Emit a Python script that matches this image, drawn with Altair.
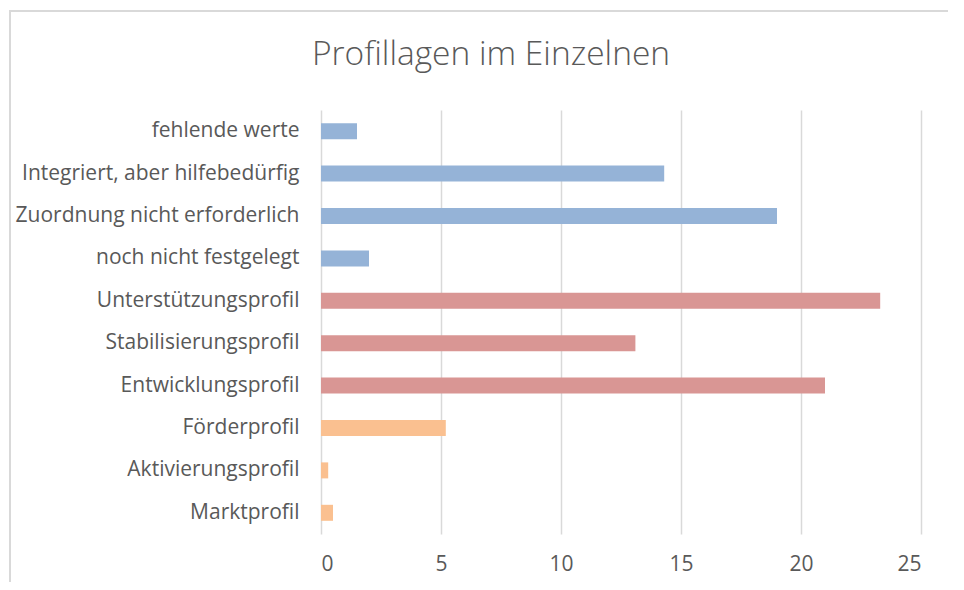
import altair as alt
import pandas as pd

categories = [
    "fehlende werte",
    "Integriert, aber hilfebedürfig",
    "Zuordnung nicht erforderlich",
    "noch nicht festgelegt",
    "Unterstützungsprofil",
    "Stabilisierungsprofil",
    "Entwicklungsprofil",
    "Förderprofil",
    "Aktivierungsprofil",
    "Marktprofil",
]
values = [1.5, 14.3, 19.0, 2.0, 23.3, 13.1, 21.0, 5.2, 0.3, 0.5]
groups = ["a", "a", "a", "a", "b", "b", "b", "c", "c", "c"]
group_colors = ["#95B3D7", "#D99694", "#FAC090"]
x_ticks = [0, 5, 10, 15, 20, 25]
title_text = "Profillagen im Einzelnen"

df = pd.DataFrame({"cat": categories, "val": values, "grp": groups})

FONT = "Open Sans"
TXT = "#595959"

bars = alt.Chart(df).mark_bar(size=16).encode(
    y=alt.Y("cat:N", sort=categories, title=None,
            scale=alt.Scale(paddingInner=0.62, paddingOuter=0.31),
            axis=alt.Axis(ticks=False, domain=False, labelFontSize=21,
                          labelColor=TXT, labelFont=FONT, labelPadding=22,
                          labelLimit=400, grid=False)),
    x=alt.X("val:Q", title=None,
            scale=alt.Scale(domain=[0, 25], nice=False),
            axis=alt.Axis(values=x_ticks, ticks=False, domain=False,
                          labelFontSize=21, labelColor=TXT, labelFont=FONT,
                          labelPadding=19, grid=True, gridColor="#d9d9d9",
                          gridWidth=1.5)),
    color=alt.Color("grp:N", scale=alt.Scale(domain=["a", "b", "c"], range=group_colors),
                    legend=None),
)

border_df = pd.DataFrame({"k": [0]})
left_border = alt.Chart(border_df).mark_rule(color="#d9d9d9", strokeWidth=2, clip=False).encode(
    x=alt.value(-311), y=alt.value(-99), y2=alt.value(480)
)
top_border = alt.Chart(border_df).mark_rule(color="#d9d9d9", strokeWidth=2, clip=False).encode(
    x=alt.value(-312), x2=alt.value(627), y=alt.value(-99)
)
title = alt.Chart(pd.DataFrame({"t": [title_text]})).mark_text(
    fontSize=33.5, font=FONT, color=TXT, align="center", baseline="middle", fontWeight=300
).encode(text="t:N", x=alt.value(170), y=alt.value(-55))

chart = alt.layer(left_border, top_border, bars, title).properties(
    width=600, height=424,
    autosize=alt.AutoSizeParams(type="none"),
    padding={"left": 313, "top": 102, "right": 35, "bottom": 48},
).configure_view(stroke=None)

chart.save("out.html", embed_options={"renderer": "svg", "actions": False})
